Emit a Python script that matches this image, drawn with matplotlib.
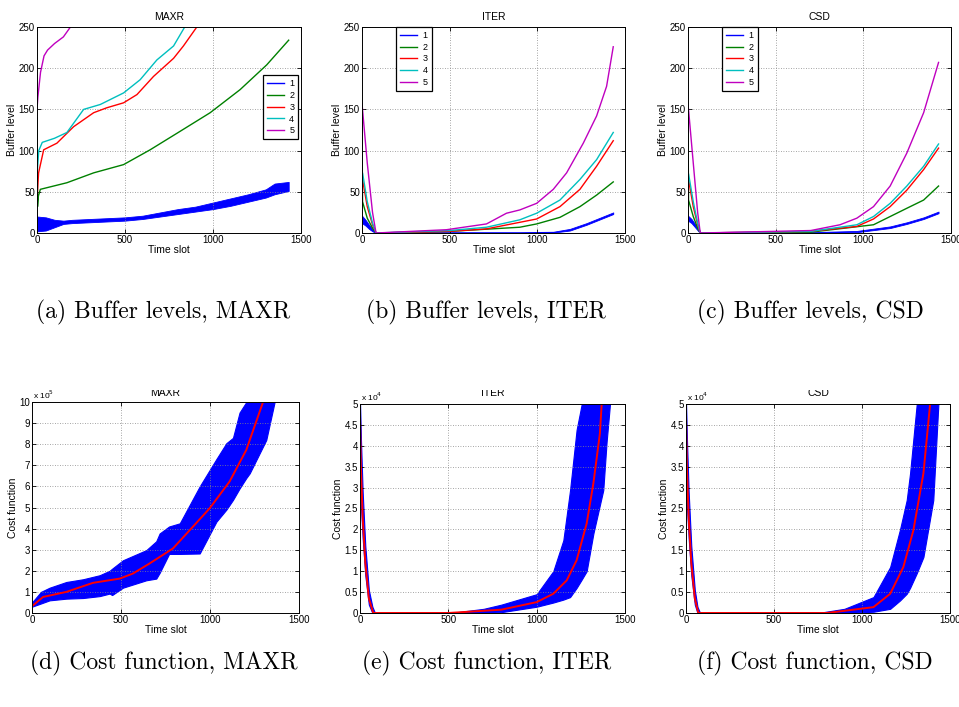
import numpy as np
import matplotlib
matplotlib.use("Agg")
import matplotlib.pyplot as plt
from matplotlib.patches import Rectangle

W, H = 959, 707
plt.rcParams.update({"font.family": ["Liberation Sans", "DejaVu Sans"], "font.size": 7})

C = {1: (0, 0, 1), 2: (0, 0.5, 0), 3: (1, 0, 0), 4: (0, 0.75, 0.75), 5: (0.75, 0, 0.75)}

# ---- buffer levels, MAXR ----
maxr_t1 = [0, 50, 100, 150, 200, 300, 400, 500, 600, 700, 800, 900, 1000, 1100, 1200, 1300, 1350, 1430]
maxr_lo1 = [2, 3, 7, 11, 12, 13, 14, 15, 17, 20, 23, 26, 29, 33, 38, 43, 47, 51]
maxr_hi1 = [20, 19, 16, 15, 16, 17, 18, 19, 21, 25, 29, 32, 37, 42, 47, 53, 60, 62]
maxr_t2 = [0, 3, 8, 19, 170, 322, 492, 643, 795, 984, 1154, 1305, 1430]
maxr_v2 = [140, 32, 45, 53, 61, 73, 83, 101, 121, 146, 174, 204, 234]
maxr_t3 = [0, 9, 38, 113, 208, 322, 397, 492, 568, 662, 776, 832, 908, 950]
maxr_v3 = [40, 73, 101, 109, 129, 146, 152, 158, 168, 190, 212, 227, 250, 265]
maxr_t4 = [0, 10, 30, 100, 170, 265, 360, 492, 586, 681, 776, 842, 880]
maxr_v4 = [70, 100, 110, 115, 122, 150, 156, 170, 186, 210, 227, 251, 262]
maxr_t5 = [0, 5, 20, 40, 60, 100, 150, 190, 230]
maxr_v5 = [150, 165, 195, 215, 222, 230, 238, 250, 262]

# ---- buffer levels, ITER ----
iter_t1 = [0, 20, 40, 60, 80, 500, 900, 1091, 1186, 1281, 1433]
iter_lo1 = [12, 9, 5, 2, 0, 0, 0, 0.5, 3, 10, 23]
iter_hi1 = [21, 16, 10, 5, 1, 1, 1, 1.5, 5, 12, 25]
iter_t2 = [0, 3, 30, 60, 80, 500, 900, 996, 1129, 1243, 1338, 1433]
iter_v2 = [140, 38, 18, 6, 0, 2, 7, 11, 19, 32, 46, 62]
iter_t3 = [0, 3, 30, 60, 80, 500, 710, 996, 1129, 1243, 1338, 1433]
iter_v3 = [40, 65, 32, 10, 0, 2, 5, 17, 32, 53, 81, 112]
iter_t4 = [0, 3, 30, 60, 80, 500, 710, 900, 996, 1129, 1243, 1338, 1433]
iter_v4 = [60, 73, 38, 12, 0, 3, 7, 16, 24, 40, 65, 89, 122]
iter_t5 = [0, 3, 30, 60, 80, 482, 710, 824, 900, 996, 1091, 1167, 1262, 1338, 1395, 1433]
iter_v5 = [157, 150, 85, 25, 0, 4, 11, 24, 28, 36, 53, 73, 109, 142, 178, 226]

# ---- buffer levels, CSD ----
csd_t1 = [0, 20, 40, 60, 70, 700, 963, 1153, 1248, 1344, 1429]
csd_lo1 = [15, 12, 7, 2, 0, 0, 1, 6, 11, 17, 24]
csd_hi1 = [21, 17, 11, 5, 1, 1, 2.5, 8, 13, 19, 26]
csd_t2 = [0, 3, 30, 55, 70, 700, 1058, 1153, 1248, 1344, 1429]
csd_v2 = [145, 40, 20, 6, 0, 1, 10, 20, 30, 40, 57]
csd_t3 = [0, 3, 30, 55, 70, 700, 963, 1058, 1153, 1248, 1344, 1429]
csd_v3 = [40, 65, 32, 10, 0, 2, 8, 17, 32, 52, 77, 103]
csd_t4 = [0, 3, 30, 55, 70, 700, 963, 1058, 1153, 1248, 1344, 1429]
csd_v4 = [60, 72, 38, 12, 0, 2, 10, 20, 36, 57, 81, 108]
csd_t5 = [0, 3, 30, 55, 70, 700, 867, 963, 1058, 1153, 1248, 1344, 1429]
csd_v5 = [155, 150, 85, 25, 0, 3, 10, 18, 32, 57, 97, 146, 207]

# ---- cost function (units: 1e5 for MAXR, 1e4 for ITER / CSD) ----
mc_t = [0, 6, 62, 193, 343, 493, 567, 661, 792, 904, 998, 1110, 1204, 1298, 1330]
mc_mean = [0.35, 0.36, 0.76, 1.0, 1.43, 1.63, 1.87, 2.35, 3.06, 4.09, 4.96, 6.23, 7.73, 10.0, 10.6]
mc_bt = [0, 50, 99, 193, 287, 380, 436, 450, 511, 642, 698, 717, 770, 830, 942, 1036, 1092, 1129,
         1166, 1204, 1223, 1316, 1363, 1400]
mc_lo = [0.3, 0.45, 0.6, 0.68, 0.71, 0.8, 0.92, 0.85, 1.2, 1.55, 1.63, 1.9, 2.8, 2.8, 2.82, 4.33,
         4.9, 5.36, 5.9, 6.4, 6.62, 8.2, 10.0, 10.6]
mc_hi = [0.5, 1.0, 1.2, 1.47, 1.6, 1.79, 2.0, 2.1, 2.5, 2.98, 3.4, 3.77, 4.1, 4.25, 6.0, 7.3,
         8.05, 8.3, 9.5, 10.0, 10.6, 10.6, 10.6, 10.6]

ic_t = [0, 5, 15, 30, 50, 75, 500, 800, 1000, 1094, 1170, 1226, 1283, 1321, 1358, 1368, 1380]
ic_mean = [4.7, 3.5, 2.3, 1.2, 0.35, 0, 0, 0.08, 0.26, 0.46, 0.78, 1.26, 2.14, 3.1, 4.3, 5.0, 5.4]
ic_bt = [0, 5, 15, 30, 50, 70, 85, 550, 700, 800, 1000, 1094, 1151, 1189, 1226, 1255, 1283,
         1321, 1377, 1396, 1415, 1430]
ic_lo = [3.0, 2.6, 1.8, 0.9, 0.2, 0, 0, 0, 0, 0.02, 0.15, 0.25, 0.32, 0.38, 0.6, 0.8, 1.0,
         1.9, 2.94, 4.1, 5.0, 5.4]
ic_hi = [5.0, 4.2, 2.9, 1.6, 0.55, 0.15, 0, 0.02, 0.1, 0.2, 0.45, 1.0, 1.74, 2.94, 4.38, 5.0,
         5.4, 5.4, 5.4, 5.4, 5.4, 5.4]

cc_t = [0, 5, 15, 30, 50, 70, 800, 1065, 1160, 1235, 1292, 1349, 1387, 1400]
cc_mean = [4.7, 3.5, 2.3, 1.2, 0.35, 0, 0, 0.14, 0.46, 1.1, 1.98, 3.34, 5.0, 5.4]
cc_bt = [0, 5, 15, 30, 50, 65, 80, 780, 900, 1065, 1160, 1216, 1254, 1273, 1311, 1349, 1405,
         1434, 1440]
cc_lo = [3.0, 2.6, 1.8, 0.9, 0.2, 0, 0, 0, 0, 0.03, 0.1, 0.3, 0.46, 0.6, 0.95, 1.34, 2.7, 5.0, 5.4]
cc_hi = [5.0, 4.2, 2.9, 1.6, 0.55, 0.15, 0, 0.02, 0.1, 0.38, 1.1, 2.0, 2.7, 3.34, 5.0, 5.4, 5.4,
         5.4, 5.4]

captions = ["(a) Buffer levels, MAXR", "(b) Buffer levels, ITER", "(c) Buffer levels, CSD",
            "(d) Cost function, MAXR", "(e) Cost function, ITER", "(f) Cost function, CSD"]
titles = ["MAXR", "ITER", "CSD"]

fig = plt.figure(figsize=(W / 100, H / 100), dpi=100)


def axes_px(left, top, right, bottom):
    return fig.add_axes([left / W, 1 - bottom / H, (right - left) / W, (bottom - top) / H])


def style(ax, ylim, yticks, ylabel):
    ax.set_xlim(0, 1500)
    ax.set_ylim(*ylim)
    ax.set_xticks([0, 500, 1000, 1500])
    ax.set_yticks(yticks)
    ax.set_yticklabels([f"{v:g}" for v in yticks])
    ax.tick_params(direction="in", length=3, width=0.6, top=True, right=True, pad=1.5,
                   labelsize=7)
    ax.grid(True, color="#888", ls=(0, (1, 2)), lw=0.6)
    for s in ax.spines.values():
        s.set_linewidth(0.7)
    ax.set_xlabel("Time slot", fontsize=7.5, labelpad=0)
    ax.set_ylabel(ylabel, fontsize=7.5, labelpad=1)


top_boxes = [(37, 27, 301, 233), (362, 27, 625, 233), (688, 27, 951, 233)]
bot_boxes = [(32, 402, 299, 613), (360, 404, 625, 613), (686, 404, 950, 613)]

buf = [
    (maxr_t1, maxr_lo1, maxr_hi1, [(maxr_t2, maxr_v2), (maxr_t3, maxr_v3), (maxr_t4, maxr_v4), (maxr_t5, maxr_v5)]),
    (iter_t1, iter_lo1, iter_hi1, [(iter_t2, iter_v2), (iter_t3, iter_v3), (iter_t4, iter_v4), (iter_t5, iter_v5)]),
    (csd_t1, csd_lo1, csd_hi1, [(csd_t2, csd_v2), (csd_t3, csd_v3), (csd_t4, csd_v4), (csd_t5, csd_v5)]),
]

leg_kw = dict(fontsize=6.5, handlelength=1.9, handletextpad=0.6, labelspacing=0.3,
              borderpad=0.45, borderaxespad=0, fancybox=False, framealpha=1,
              edgecolor="black")

for i, (box, (t1, lo1, hi1, others)) in enumerate(zip(top_boxes, buf)):
    ax = axes_px(*box)
    ax.fill_between(t1, lo1, hi1, color=C[1], lw=0.6)
    ax.plot([], [], color=C[1], lw=1, label="1")
    for k, (t, v) in enumerate(others, start=2):
        ax.plot(t, v, color=C[k], lw=1, label=str(k))
    style(ax, (0, 250), [0, 50, 100, 150, 200, 250], "Buffer level")
    ax.set_title(titles[i], fontsize=7.5, pad=5)
    if i == 0:
        leg = ax.legend(loc="upper right", bbox_to_anchor=(0.99, 0.765), **leg_kw)
    else:
        leg = ax.legend(loc="upper left", bbox_to_anchor=(0.13, 1.0), **leg_kw)
    leg.get_frame().set_linewidth(0.9)

cost = [(mc_t, mc_mean, mc_bt, mc_lo, mc_hi, (0, 10), list(range(11)), "5"),
        (ic_t, ic_mean, ic_bt, ic_lo, ic_hi, (0, 5), [0, 0.5, 1, 1.5, 2, 2.5, 3, 3.5, 4, 4.5, 5], "4"),
        (cc_t, cc_mean, cc_bt, cc_lo, cc_hi, (0, 5), [0, 0.5, 1, 1.5, 2, 2.5, 3, 3.5, 4, 4.5, 5], "4")]

for i, (box, (t, m, bt, lo, hi, yl, yt, ex)) in enumerate(zip(bot_boxes, cost)):
    ax = axes_px(*box)
    ax.fill_between(bt, lo, hi, color=C[1], lw=0.8)
    ax.plot(t, m, color=C[3], lw=1.4)
    style(ax, yl, yt, "Cost function")
    ax.text(0.005, 1.005, "x 10$^{%s}$" % ex, transform=ax.transAxes, fontsize=6,
            ha="left", va="bottom")
    cx = (box[0] + box[2]) / 2
    fig.text(cx / W, 1 - 393 / H, titles[i], fontsize=7.5, ha="center", va="center")

# bottom titles are cut off in the original (sub-figure crop)
fig.add_artist(Rectangle((0, 1 - 389.5 / H), 1, 50 / H, transform=fig.transFigure,
                         facecolor="white", edgecolor="none", zorder=10))

cap_x = [163, 486, 810, 164, 487, 815]
cap_y = [312, 312, 312, 663, 663, 663]
for s, x, y in zip(captions, cap_x, cap_y):
    fig.text(x / W, 1 - y / H, s, family="cmr10", fontsize=17, ha="center", va="center")

fig.savefig("out.png", dpi=100, facecolor="white")
